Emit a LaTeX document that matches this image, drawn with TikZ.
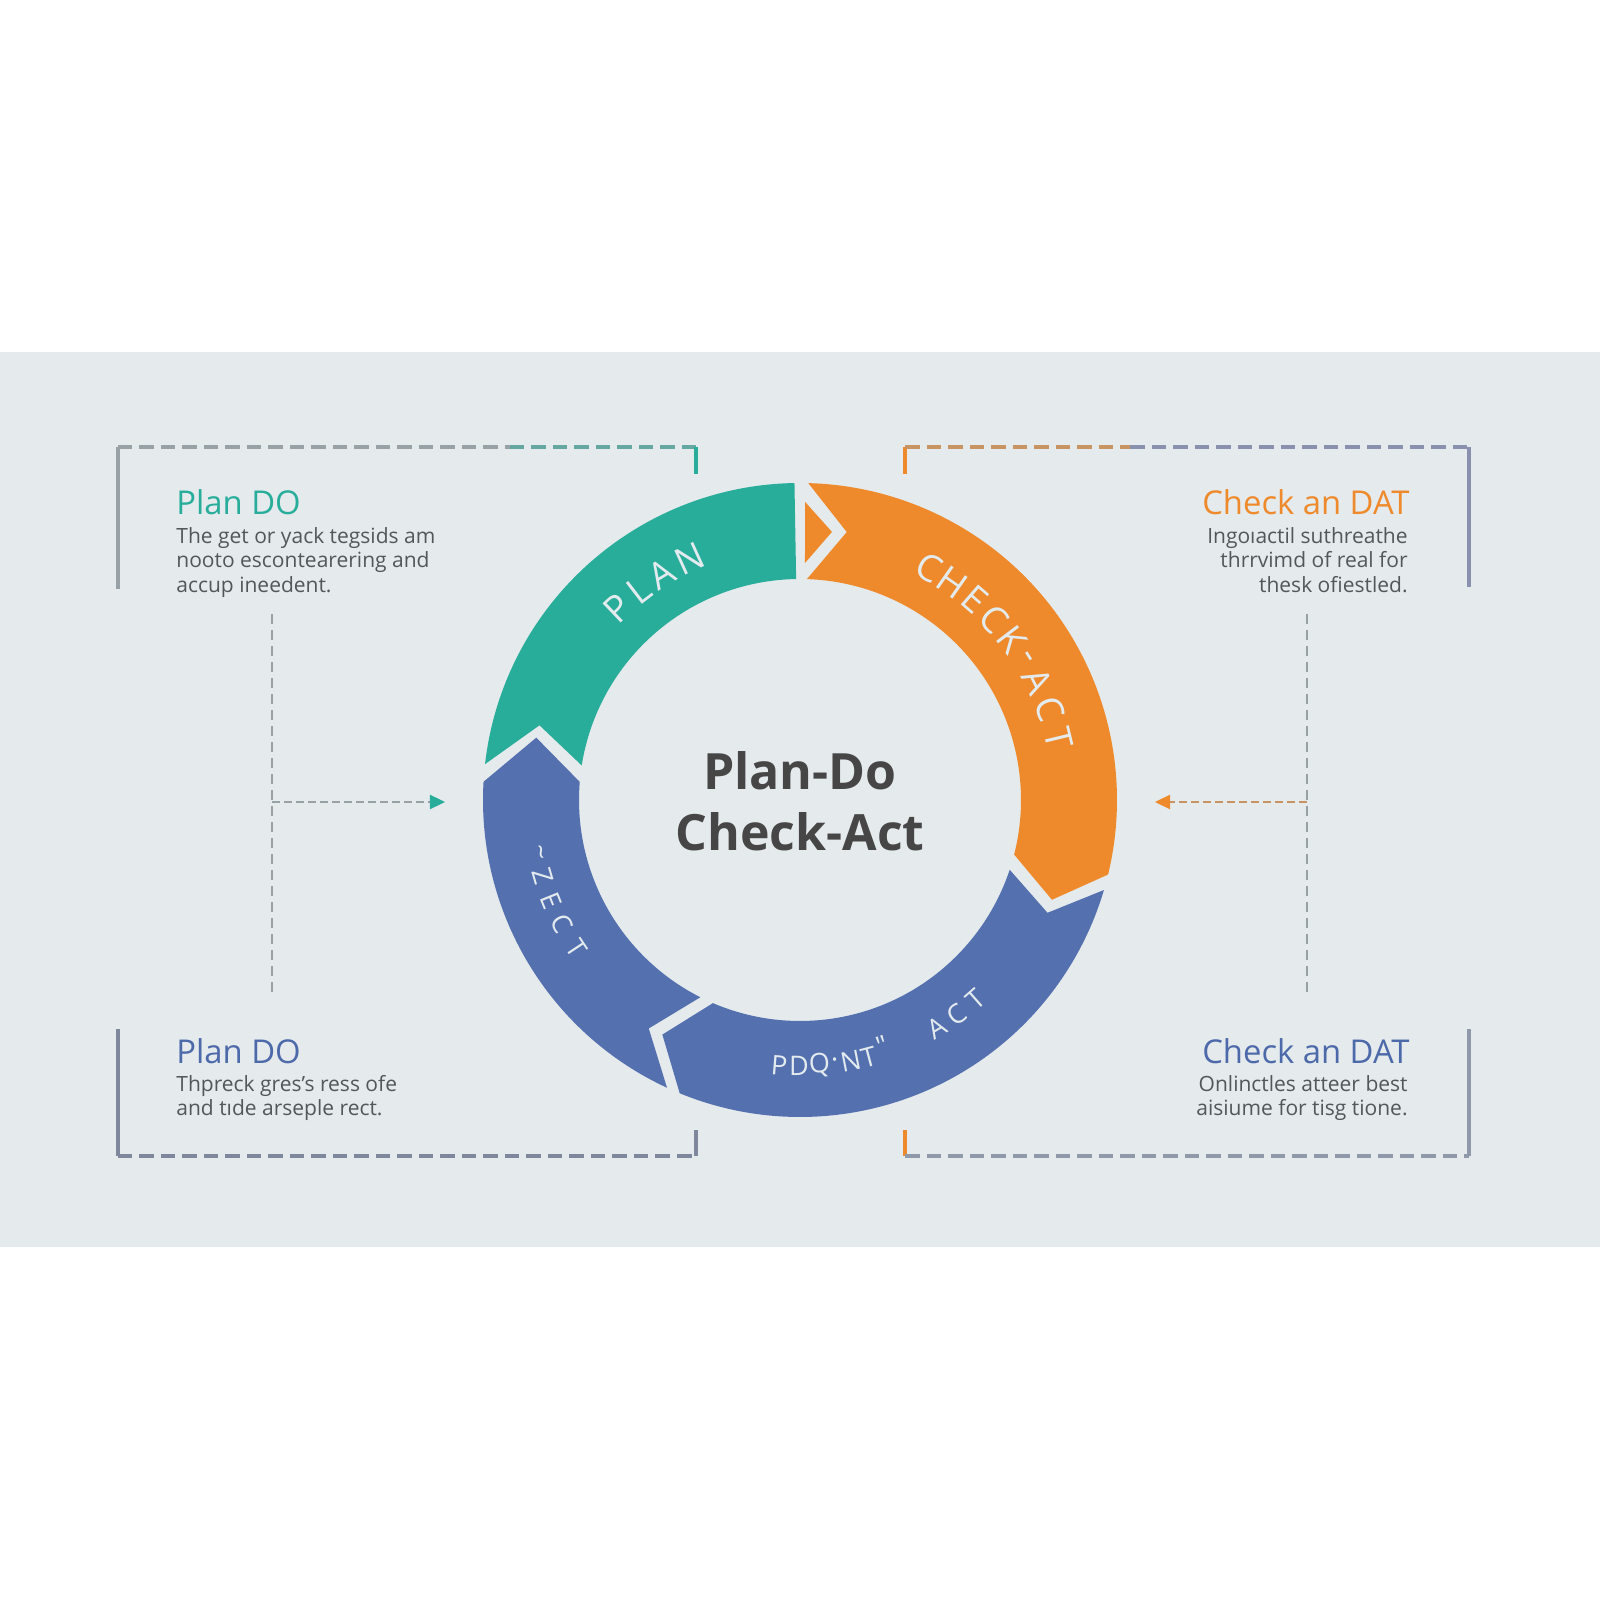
\documentclass[tikz,border=0pt]{standalone}
\usepackage{fontspec}
\setmainfont{Open Sans}
\usetikzlibrary{arrows.meta, positioning}

\definecolor{plancol}{HTML}{27AD9A}
\definecolor{checkcol}{HTML}{EE8A2B}
\definecolor{actcol}{HTML}{5470AF}
\definecolor{bandcol}{HTML}{E5EAED}
\definecolor{titlecol}{HTML}{464646}
\definecolor{bodycol}{HTML}{52575C}
\definecolor{dashgray}{HTML}{98A1A6}
\definecolor{dashblue}{HTML}{7E879B}
\definecolor{ringtext}{HTML}{E3EBEF}
\definecolor{headblue}{HTML}{4C69A9}

\begin{document}
\begin{tikzpicture}[
				x=0.5pt, y=0.5pt,
				frame/.style={line width=1.8pt},
				bracket/.style={line width=1.8pt, dash pattern=on 7.25pt off 3.5pt},
				guide/.style={line width=1pt, dash pattern=on 5pt off 3pt, dashgray},
				pointer/.style={line width=1.2pt, dash pattern=on 4pt off 2pt},
				heading/.style={font=\fontsize{16.4}{20}\selectfont, inner sep=0pt},
				body/.style={font=\fontsize{10.5}{12.25}\selectfont, text=bodycol, inner sep=0pt},
				ringbig/.style={text=ringtext, inner sep=0pt, font=\fontsize{18.5}{18.5}\selectfont},
				ringsmall/.style={text=ringtext, inner sep=0pt, font=\fontsize{13.5}{13.5}\selectfont}
			]

			% page and grey band
			\fill[white] (-800,-800) rectangle (800,800);
			\fill[bandcol] (-800,-447) rectangle (800,448);
			\useasboundingbox (-800,-800) rectangle (800,800);

			% ring segments
			\fill[plancol] (91:317) arc[start angle=91, end angle=173.5, radius=317] -- (164:271)
				-- (171:221) arc[start angle=171, end angle=91, radius=221] -- cycle;
			\fill[checkcol] (80.1:272) -- (88.5:317) arc[start angle=88.5, end angle=-13.6, radius=317]
				-- (-21.6:271) -- (-14.3:221) arc[start angle=-14.3, end angle=88.2, radius=221] -- cycle;
			\fill[checkcol] (89:298) -- (83.2:270) -- (88.8:237) -- cycle;
			\fill[actcol] (239.6:272) -- (247.7:317) arc[start angle=247.7, end angle=343.5, radius=317]
				-- (335.5:272) -- (341.6:221) arc[start angle=341.6, end angle=246.8, radius=221] -- cycle;
			\fill[actcol] (166.7:271) -- (176.7:317) arc[start angle=176.7, end angle=245.2, radius=317]
				-- (236.5:274) -- (243.2:221) arc[start angle=243.2, end angle=175.3, radius=221] -- cycle;

			% letters on the ring
			\foreach \ch/\a [count=\i] in {P/133.5, L/127.5, A/121.5, N/114.5}
				\node[ringbig, rotate=\a-90] (plan\i) at (\a:265) {\ch};
			\foreach \ch/\a [count=\i] in {C/61, H/55, E/49, C/43, K/37.2, -/32, A/26.5, C/20, T/13.5}
				\node[ringbig, rotate=\a-90] (check\i) at (\a:266) {\ch};
			\foreach \ch/\a [count=\i] in {\textasciitilde/191.5, Z/196.5, E/202, C/207.5, T/213.5}
				\node[ringsmall, rotate=\a+90] (zect\i) at (\a:268) {\ch};
			\foreach \ch/\a/\r [count=\i] in {P/265.5/266, D/269.8/266, Q/274.2/266, ·/277.6/266, N/281/266,
				T/285/266, \textquotedbl/288.7/259, A/301/266, C/306.2/266, T/311.3/266}
				\node[ringsmall, rotate=\a+90] (act\i) at (\a:\r) {\ch};

			% centre title
			\node[font=\fontsize{25}{30.5}\selectfont\bfseries, text=titlecol, align=center] (title) at (0,-1) {Plan-Do\\Check-Act};

			% text blocks
			\node[heading, text=plancol, anchor=base west] (tlhead) at (-624,285) {Plan DO};
			\node[body, align=left, anchor=north west] (tlbody) at (-624,273) {The get or yack tegsids am\\nooto escontearering and\\accup ineedent.};
			\node[heading, text=checkcol, anchor=base east] (trhead) at (610,285) {Check an DAT};
			\node[body, align=right, anchor=north east] (trbody) at (608,273) {Ingoıactil suthreathe\\thrrvimd of real for\\thesk ofiestled.};
			\node[heading, text=headblue, anchor=base west] (blhead) at (-624,-263) {Plan DO};
			\node[body, align=left, anchor=north west] (blbody) at (-624,-275) {Thpreck gres's ress ofe\\and tıde arseple rect.};
			\node[heading, text=headblue, anchor=base east] (brhead) at (610,-263) {Check an DAT};
			\node[body, align=right, anchor=north east] (brbody) at (608,-275) {Onlinctles atteer best\\aisiume for tisg tione.};

			% brackets
			\draw[frame, dashgray] (-682,211) -- (-682,353);
			\draw[bracket, dashgray] (-682,353) -- (-290,353);
			\draw[bracket, plancol!45!dashgray] (-290,353) -- (-104,353);
			\draw[frame, plancol] (-104,353) -- (-104,326);
			\draw[frame, checkcol] (105,326) -- (105,353);
			\draw[bracket, checkcol!55!dashgray] (105,353) -- (330,353);
			\draw[bracket, dashgray!90!blue] (330,353) -- (669,353);
			\draw[frame, dashgray!90!blue] (669,353) -- (669,213);
			\draw[frame, dashblue] (-682,-229) -- (-682,-356);
			\draw[bracket, dashblue] (-682,-356) -- (-104,-356);
			\draw[frame, dashblue] (-104,-356) -- (-104,-330);
			\draw[frame, checkcol] (105,-330) -- (105,-356);
			\draw[bracket, dashgray!95!blue] (105,-356) -- (669,-356);
			\draw[frame, dashgray!95!blue] (669,-356) -- (669,-229);

			% guide lines and pointers
			\coordinate (lgtop) at (-528,186);
			\coordinate (lgbot) at (-528,-195);
			\coordinate (lgmid) at (-528,-2);
			\coordinate (lgtip) at (-355,-2);
			\coordinate (rgtop) at (507,186);
			\coordinate (rgbot) at (507,-195);
			\coordinate (rgmid) at (507,-2);
			\coordinate (rgtip) at (355,-2);
			\draw[guide] (lgtop) -- (lgbot);
			\draw[guide] (rgtop) -- (rgbot);
			\draw[pointer, dashgray, -{Triangle[length=7.5pt, width=7pt, color=plancol]}] (lgmid) -- (lgtip);
			\draw[pointer, checkcol!55!dashgray, -{Triangle[length=7.5pt, width=7pt, color=checkcol]}] (rgmid) -- (rgtip);

		\end{tikzpicture}
\end{document}
